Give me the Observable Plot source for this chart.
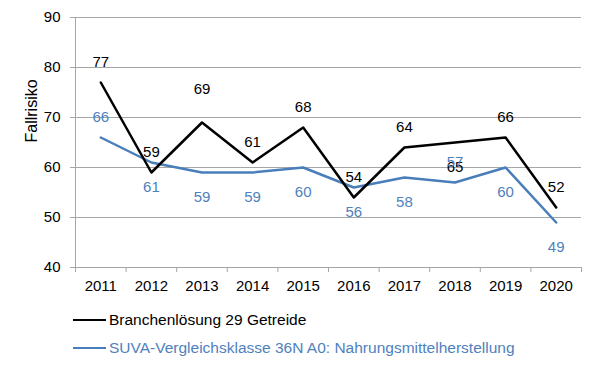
<!DOCTYPE html>
<html>
<head>
<meta charset="utf-8">
<script src="https://cdn.jsdelivr.net/npm/d3@7"></script>
<script src="https://cdn.jsdelivr.net/npm/@observablehq/plot@0.6"></script>
<style>
  body { margin: 0; background: #fff; font-family: "Liberation Sans", Arial, sans-serif; }
  #legend { position: relative; height: 67px; }
  .row { position: absolute; left: 73px; display: flex; align-items: center; font-size: 15.5px; height: 20px; }
  .swatch { width: 33px; height: 0; border-top: 2.5px solid; margin-right: 3px; }
</style>
</head>
<body>
<div id="chart"></div>
<div id="legend"></div>
<script>
const years = [2011, 2012, 2013, 2014, 2015, 2016, 2017, 2018, 2019, 2020];
const branche = [77, 59, 69, 61, 68, 54, 64, 65, 66, 52];
const suva = [66, 61, 59, 59, 60, 56, 58, 57, 60, 49];
const brancheLabelPlace = ["above", "above", "high", "above", "above", "above", "above", "below", "above", "above"];
const suvaLabelPlace = ["above", "below", "below", "below", "below", "below", "below", "above", "below", "below"];
const seriesNames = ["Branchenlösung 29 Getreide", "SUVA-Vergleichsklasse 36N A0: Nahrungsmittelherstellung"];
const yTicks = [40, 50, 60, 70, 80, 90];
const yTitle = "Fallrisiko";

const colors = {black: "#000000", blue: "#4a7ebb", blueText: "#4f81bd", grid: "#a6a6a6"};
const dyMap = {above: -20, high: -33, below: 25};

const rows = [];
years.forEach((yr, i) => {
  rows.push({year: yr, value: branche[i], series: seriesNames[0], place: brancheLabelPlace[i]});
});
years.forEach((yr, i) => {
  rows.push({year: yr, value: suva[i], series: seriesNames[1], place: suvaLabelPlace[i]});
});
const blackRows = rows.filter(d => d.series === seriesNames[0]);
const blueRows = rows.filter(d => d.series === seriesNames[1]);

const xDomain = [years[0] - 0.5, years[years.length - 1] + 0.5];
const boundaries = years.map(y => y - 0.5).concat([years[years.length - 1] + 0.5]);

function labelMarks(data, color) {
  return ["above", "high", "below"].map(p => Plot.text(data.filter(d => d.place === p), {
    x: "year", y: "value", text: d => String(d.value), fill: color,
    dy: dyMap[p], fontSize: 15
  }));
}

const chart = Plot.plot({
  width: 600,
  height: 300,
  marginTop: 17,
  marginBottom: 33,
  marginLeft: 75,
  marginRight: 19,
  style: {fontFamily: "'Liberation Sans', Arial, sans-serif", fontSize: "15px", color: "#000", background: "#fff"},
  x: {type: "linear", domain: xDomain},
  y: {domain: [yTicks[0], yTicks[yTicks.length - 1]]},
  marks: [
    Plot.ruleY(yTicks.slice(1), {stroke: colors.grid, strokeWidth: 1}),
    Plot.ruleY([yTicks[0]], {stroke: colors.grid, strokeWidth: 1}),
    Plot.ruleX([xDomain[0]], {stroke: colors.grid, strokeWidth: 1}),
    Plot.axisY({ticks: yTicks, tickSize: 5, tickPadding: 10, label: null, stroke: colors.grid, fontSize: 15, color: "#000"}),
    Plot.axisX({ticks: boundaries, tickSize: 5, tickFormat: () => "", label: null, stroke: colors.grid}),
    Plot.axisX({ticks: years, tickSize: 0, tickPadding: 13, tickFormat: d => String(d), label: null, fontSize: 15}),
    Plot.text([yTitle], {text: d => d, frameAnchor: "left", dx: -44, rotate: -90, fontSize: 16, fill: "#000"}),
    Plot.line(blueRows, {x: "year", y: "value", stroke: colors.blue, strokeWidth: 2.5}),
    Plot.line(blackRows, {x: "year", y: "value", stroke: colors.black, strokeWidth: 2.5}),
    ...labelMarks(blackRows, colors.black),
    ...labelMarks(blueRows, colors.blueText)
  ]
});
document.getElementById("chart").appendChild(chart);

const legend = document.getElementById("legend");
[[seriesNames[0], colors.black, colors.black, 10], [seriesNames[1], colors.blue, colors.blueText, 38]].forEach(([name, c, tc, top]) => {
  const row = document.createElement("div");
  row.className = "row";
  row.style.top = top + "px";
  const sw = document.createElement("span");
  sw.className = "swatch";
  sw.style.borderColor = c;
  const t = document.createElement("span");
  t.textContent = name;
  t.style.color = tc;
  row.appendChild(sw);
  row.appendChild(t);
  legend.appendChild(row);
});
</script>
</body>
</html>
